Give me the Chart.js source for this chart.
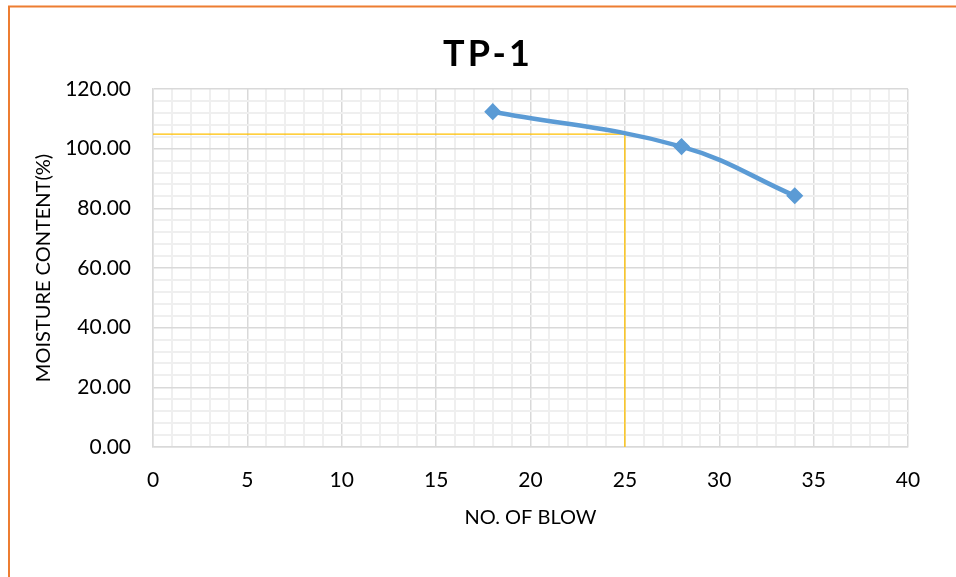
<!DOCTYPE html>
<html>
<head>
<meta charset="utf-8">
<script src="https://cdn.jsdelivr.net/npm/chart.js@4"></script>
<style>
  html, body { margin: 0; padding: 0; background: #fff; }
  canvas { display: block; }
</style>
</head>
<body>
<canvas id="chart" width="956" height="577"></canvas>
<script>
// Liquid limit test, sample TP-1
const blows = [18, 28, 34];
const moisture = [112.4, 100.7, 84.2];
const limitBlows = 25;
const liquidLimit = 104.9;
const chartTitle = 'TP-1';
const xTitle = 'NO. OF BLOW';
const yTitle = 'MOISTURE CONTENT(%)';

const FONT = 'Lato, "Open Sans", sans-serif';

const points = blows.map((b, i) => ({ x: b, y: moisture[i] }));
const limitGuide = [
  { x: 0, y: liquidLimit },
  { x: limitBlows, y: liquidLimit },
  { x: limitBlows, y: 0 }
];

// Orange frame and spaced-out heading
const framePlugin = {
  id: 'frame',
  beforeDraw(chart) {
    const ctx = chart.ctx;
    ctx.save();
    ctx.fillStyle = '#fff';
    ctx.fillRect(0, 0, chart.width, chart.height);
    ctx.strokeStyle = '#ED7D31';
    ctx.lineWidth = 2;
    ctx.beginPath();
    ctx.moveTo(9, chart.height + 2);
    ctx.lineTo(9, 6.5);
    ctx.lineTo(chart.width + 2, 6.5);
    ctx.stroke();
    ctx.restore();
  },
  afterDraw(chart) {
    const ctx = chart.ctx;
    ctx.save();
    ctx.font = 'bold 36px ' + FONT;
    ctx.fillStyle = '#000';
    ctx.textAlign = 'center';
    ctx.textBaseline = 'middle';
    if ('letterSpacing' in ctx) ctx.letterSpacing = '3px';
    ctx.fillText(chartTitle, 488, 54);
    ctx.restore();
  }
};

const isMajor = (ctx, every) => ctx.tick && Math.round(ctx.tick.value) % every === 0;
const gridColor = (ctx, every) => (isMajor(ctx, every) ? '#D9D9D9' : '#EFEFEF');
const gridWidth = (ctx, every) => (isMajor(ctx, every) ? 1.5 : 2);

new Chart(document.getElementById('chart'), {
  type: 'scatter',
  data: {
    datasets: [
      {
        data: limitGuide,
        showLine: true,
        borderColor: '#FFC000',
        borderWidth: 1.3,
        pointRadius: 0,
        tension: 0,
        order: 2
      },
      {
        data: points,
        showLine: true,
        borderColor: '#5B9BD5',
        backgroundColor: '#5B9BD5',
        borderWidth: 4.5,
        tension: 0.4,
        pointStyle: 'rectRot',
        pointRadius: 7.5,
        pointBorderWidth: 1.5,
        pointBorderColor: '#5B9BD5',
        pointBackgroundColor: '#5B9BD5',
        order: 1
      }
    ]
  },
  options: {
    responsive: false,
    animation: false,
    devicePixelRatio: 1,
    layout: { padding: { top: 89, right: 48, left: 0, bottom: 0 } },
    plugins: {
      legend: { display: false },
      tooltip: { enabled: false },
      title: { display: false }
    },
    scales: {
      x: {
        type: 'linear',
        min: 0,
        max: 40,
        afterFit(scale) { scale.height = 130; },
        ticks: {
          stepSize: 1,
          autoSkip: false,
          maxRotation: 0,
          padding: 21,
          color: '#000',
          font: { family: FONT, size: 21 },
          callback: v => (v % 5 === 0 ? String(v) : '')
        },
        grid: {
          color: ctx => gridColor(ctx, 5),
          lineWidth: ctx => gridWidth(ctx, 5),
          drawTicks: false
        },
        border: { color: '#D9D9D9', width: 1.5 },
        title: {
          display: true,
          text: xTitle,
          color: '#000',
          font: { family: FONT, size: 20 },
          padding: { top: 0, bottom: 47 }
        }
      },
      y: {
        type: 'linear',
        min: 0,
        max: 120,
        afterFit(scale) { scale.width = 153; },
        ticks: {
          stepSize: 4,
          autoSkip: false,
          padding: 22,
          color: '#000',
          font: { family: FONT, size: 21 },
          callback: v => (v % 20 === 0 ? v.toFixed(2) : '')
        },
        grid: {
          color: ctx => gridColor(ctx, 20),
          lineWidth: ctx => gridWidth(ctx, 20),
          drawTicks: false
        },
        border: { color: '#D9D9D9', width: 1.5 },
        title: {
          display: true,
          text: yTitle,
          color: '#000',
          font: { family: FONT, size: 20 },
          padding: { top: 32, bottom: 0 }
        }
      }
    }
  },
  plugins: [framePlugin]
});
</script>
</body>
</html>
